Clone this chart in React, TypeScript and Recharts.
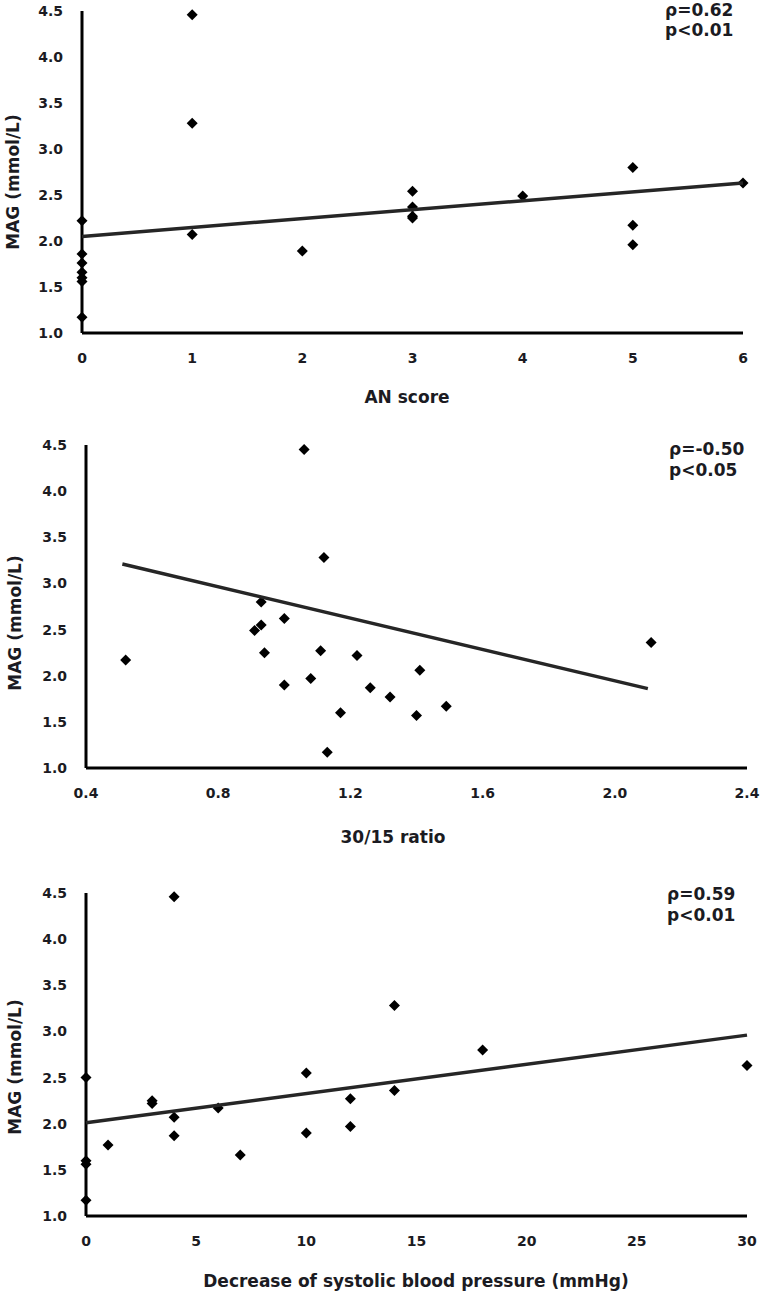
import { Scatter, ScatterChart, XAxis, YAxis } from 'recharts';

const FONT = '"DejaVu Sans", Verdana, sans-serif';
const INK = '#1b1b22';

// MAG values (mmol/L), shared y axis
const MAG_TICKS = [1.0, 1.5, 2.0, 2.5, 3.0, 3.5, 4.0, 4.5];

// Panel A: AN score
const AN_SCORE = [0, 0, 0, 0, 0, 0, 0, 1, 1, 1, 2, 3, 3, 3, 3, 4, 5, 5, 5, 6];
const AN_MAG = [2.22, 1.86, 1.76, 1.66, 1.6, 1.56, 1.17, 4.46, 3.28, 2.07, 1.89, 2.54, 2.37, 2.27, 2.25, 2.49, 2.8, 2.17, 1.96, 2.63];
const AN_TICKS = [0, 1, 2, 3, 4, 5, 6];
const AN_FIT_X = [0, 6];
const AN_FIT_Y = [2.05, 2.63];

// Panel B: 30/15 ratio
const RATIO = [0.52, 1.06, 1.12, 0.93, 0.91, 0.93, 1.0, 0.94, 1.11, 1.22, 1.0, 1.08, 1.26, 1.17, 1.13, 1.32, 1.41, 1.4, 1.49, 2.11];
const RATIO_MAG = [2.17, 4.45, 3.28, 2.8, 2.49, 2.55, 2.62, 2.25, 2.27, 2.22, 1.9, 1.97, 1.87, 1.6, 1.17, 1.77, 2.06, 1.57, 1.67, 2.36];
const RATIO_TICKS = [0.4, 0.8, 1.2, 1.6, 2.0, 2.4];
const RATIO_FIT_X = [0.51, 2.1];
const RATIO_FIT_Y = [3.21, 1.86];

// Panel C: decrease of systolic blood pressure
const SBP_DROP = [0, 0, 0, 0, 1, 3, 3, 4, 4, 4, 6, 7, 10, 10, 12, 12, 14, 14, 18, 30];
const SBP_MAG = [2.5, 1.6, 1.56, 1.17, 1.77, 2.25, 2.22, 4.46, 2.07, 1.87, 2.17, 1.66, 2.55, 1.9, 2.27, 1.97, 3.28, 2.36, 2.8, 2.63];
const SBP_TICKS = [0, 5, 10, 15, 20, 25, 30];
const SBP_FIT_X = [0, 30];
const SBP_FIT_Y = [2.01, 2.96];

const toPoints = (xs: number[], ys: number[]) => xs.map((x, i) => ({ x, y: ys[i] }));

function Diamond(props: any) {
  const { cx, cy } = props;
  if (cx == null || cy == null) return <g />;
  return <path d={`M${cx},${cy - 5.5} L${cx + 5.5},${cy} L${cx},${cy + 5.5} L${cx - 5.5},${cy} Z`} fill="#000" />;
}

const NoMark = () => <g />;

const tickText = { fill: INK, fontSize: 14, fontWeight: 700, fontFamily: FONT };

const xTick = (digits: number) => (p: any) => (
  <text {...tickText} x={p.x} y={p.y} dy="0.71em" textAnchor="middle">
    {Number(p.payload.value).toFixed(digits)}
  </text>
);

const yTick = (p: any) => (
  <text {...tickText} x={p.x} y={p.y} dy="0.36em" textAnchor="end">
    {Number(p.payload.value).toFixed(1)}
  </text>
);

type PanelProps = {
  top: number;
  height: number;
  margin: { top: number; right: number; bottom: number; left: number };
  domain: [number, number];
  ticks: number[];
  digits: number;
  xs: number[];
  ys: number[];
  fitX: number[];
  fitY: number[];
};

function Panel({ top, height, margin, domain, ticks, digits, xs, ys, fitX, fitY }: PanelProps) {
  return (
    <div style={{ position: 'absolute', left: 0, top }}>
      <ScatterChart width={761} height={height} margin={margin}>
        <XAxis
          type="number"
          dataKey="x"
          domain={domain}
          ticks={ticks}
          interval={0}
          axisLine={{ stroke: '#000', strokeWidth: 3 }}
          tickLine={false}
          tickSize={6}
          tickMargin={14}
          tick={xTick(digits)}
          height={40}
        />
        <YAxis
          type="number"
          dataKey="y"
          domain={[1, 4.5]}
          ticks={MAG_TICKS}
          interval={0}
          axisLine={{ stroke: '#000', strokeWidth: 3 }}
          tickLine={false}
          tickSize={6}
          tickMargin={13}
          tick={yTick}
          width={60}
        />
        <Scatter data={toPoints(xs, ys)} shape={Diamond} isAnimationActive={false} />
        <Scatter
          data={toPoints(fitX, fitY)}
          shape={NoMark}
          line={{ stroke: '#262626', strokeWidth: 3.5 }}
          lineType="joint"
          isAnimationActive={false}
        />
      </ScatterChart>
    </div>
  );
}

const labelStyle = { fontFamily: FONT, fontSize: 17, fontWeight: 700, fill: INK };

export default function App() {
  return (
    <div style={{ position: 'relative', width: 761, height: 1296, background: '#fff', overflow: 'hidden' }}>
      <style>{'body{margin:0}'}</style>
      <Panel
        top={0}
        height={410}
        margin={{ top: 11, right: 18, bottom: 37, left: 22 }}
        domain={[0, 6]}
        ticks={AN_TICKS}
        digits={0}
        xs={AN_SCORE}
        ys={AN_MAG}
        fitX={AN_FIT_X}
        fitY={AN_FIT_Y}
      />
      <Panel
        top={420}
        height={430}
        margin={{ top: 25, right: 14, bottom: 42, left: 26 }}
        domain={[0.4, 2.4]}
        ticks={RATIO_TICKS}
        digits={1}
        xs={RATIO}
        ys={RATIO_MAG}
        fitX={RATIO_FIT_X}
        fitY={RATIO_FIT_Y}
      />
      <Panel
        top={870}
        height={426}
        margin={{ top: 23, right: 14, bottom: 40, left: 26 }}
        domain={[0, 30]}
        ticks={SBP_TICKS}
        digits={0}
        xs={SBP_DROP}
        ys={SBP_MAG}
        fitX={SBP_FIT_X}
        fitY={SBP_FIT_Y}
      />
      <svg width={761} height={1296} style={{ position: 'absolute', left: 0, top: 0, pointerEvents: 'none' }}>
        <text {...labelStyle} transform="translate(19,182) rotate(-90)" textAnchor="middle">MAG (mmol/L)</text>
        <text {...labelStyle} transform="translate(21,623) rotate(-90)" textAnchor="middle">MAG (mmol/L)</text>
        <text {...labelStyle} transform="translate(21,1067) rotate(-90)" textAnchor="middle">MAG (mmol/L)</text>

        <text {...labelStyle} x={407} y={403} textAnchor="middle">AN score</text>
        <text {...labelStyle} x={393} y={843} textAnchor="middle">30/15 ratio</text>
        <text {...labelStyle} x={416} y={1287} textAnchor="middle">Decrease of systolic blood pressure (mmHg)</text>

        <text {...labelStyle} x={665} y={16}>ρ=0.62</text>
        <text {...labelStyle} x={665} y={36}>p&lt;0.01</text>
        <text {...labelStyle} x={669} y={455}>ρ=-0.50</text>
        <text {...labelStyle} x={669} y={476}>p&lt;0.05</text>
        <text {...labelStyle} x={667} y={900}>ρ=0.59</text>
        <text {...labelStyle} x={667} y={921}>p&lt;0.01</text>
      </svg>
    </div>
  );
}
